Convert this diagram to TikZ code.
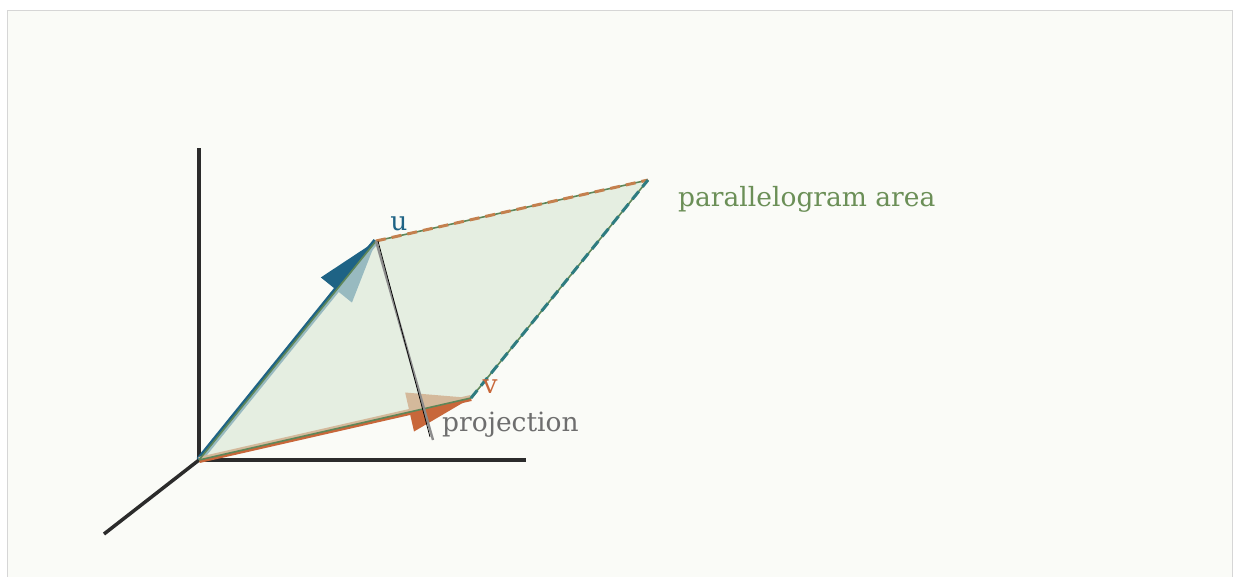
\documentclass[tikz,border=0pt]{standalone}
\usepackage{fontspec}
\setmainfont{DejaVu Serif}
\definecolor{pgblue}{RGB}{30,99,133}
\definecolor{pglightblue}{RGB}{152,186,192}
\definecolor{pgorange}{RGB}{200,103,58}
\definecolor{pgtan}{RGB}{212,185,155}
\definecolor{pggreen}{RGB}{94,134,88}
\definecolor{pgtext}{RGB}{107,143,87}
\definecolor{pgfill}{RGB}{229,238,225}
\definecolor{pgaxis}{RGB}{43,43,43}
\definecolor{pgteal}{RGB}{46,124,128}
\definecolor{pgbrown}{RGB}{196,128,78}
\definecolor{pggray}{RGB}{110,110,110}
\definecolor{pgpanel}{RGB}{250,251,247}
\usetikzlibrary{calc}

\begin{document}
\begin{tikzpicture}[x=1pt,y=-1pt,
  axis/.style={pgaxis,line width=3.5pt},
  edge/.style={pggreen,line width=1.6pt},
  dashedge/.style={line width=3pt,dash pattern=on 10pt off 6pt},
  lbl/.style={font=\fontsize{26.5}{32}\selectfont,inner sep=0pt}]
  \useasboundingbox (0,0) rectangle (1233,576);
  \fill[white] (0,0) rectangle (1233,576);
  \path[fill=pgpanel,draw=black!16,line width=1pt] (7.5,10.5) rectangle (1232.5,600);
  % axes
  \coordinate (O) at (199,460);
  \coordinate (Z) at (199,148);
  \coordinate (X) at (526,460);
  \coordinate (Y) at (104,534);
  \draw[axis] (Z) -- (O) -- (X);
  \draw[axis] (O) -- (Y);
  % vectors and parallelogram
  \coordinate (U) at (376,241);
  \coordinate (V) at (471,398);
  \coordinate (W) at (648,180);
  \fill[pgfill] (O) -- (U) -- (W) -- (V) -- cycle;
  \draw[pglightblue,line width=3pt,transform canvas={xshift=1.2pt,yshift=-1pt}] (O) -- (U);
  \draw[pgblue,line width=3pt,transform canvas={xshift=-1.2pt,yshift=1pt}] (O) -- (U);
  \draw[pgtan,line width=3pt,transform canvas={xshift=-0.35pt,yshift=1.5pt}] (O) -- (V);
  \draw[pgorange,line width=3pt,transform canvas={xshift=0.35pt,yshift=-1.5pt}] (O) -- (V);
  \coordinate (ub) at ($(U)!63pt!(O)$);
  \coordinate (vb) at ($(V)!63pt!(O)$);
  \fill[pgblue] (U) -- ($(ub)!20pt!90:(U)$) -- (ub) -- cycle;
  \fill[pglightblue] (U) -- ($(ub)!20pt!-90:(U)$) -- (ub) -- cycle;
  \fill[pgorange] (V) -- ($(vb)!20pt!-90:(V)$) -- (vb) -- cycle;
  \fill[pgtan] (V) -- ($(vb)!20pt!90:(V)$) -- (vb) -- cycle;
  \draw[edge] (O) -- (U) (O) -- (V) (U) -- (W) (V) -- (W);
  \draw[dashedge,pgbrown] (U) -- (W);
  \draw[dashedge,pgteal] (V) -- (W);
  % projection
  \coordinate (P) at (433,440);
  \coordinate (Q) at (430,437);
  \coordinate (U2) at (378,241);
  \draw[black!45,line width=2.4pt] (U) -- (P);
  \draw[black,line width=0.7pt] (U2) -- (Q);
  % labels
  \node[lbl,text=pgblue,anchor=base] (ulabel) at (399,230) {u};
  \node[lbl,text=pgorange,anchor=base] (vlabel) at (490,393) {v};
  \node[lbl,text=pggray,anchor=base west] (projlabel) at (442,431) {projection};
  \node[lbl,text=pgtext,anchor=base west] (arealabel) at (678,206) {parallelogram area};
\end{tikzpicture}
\end{document}
